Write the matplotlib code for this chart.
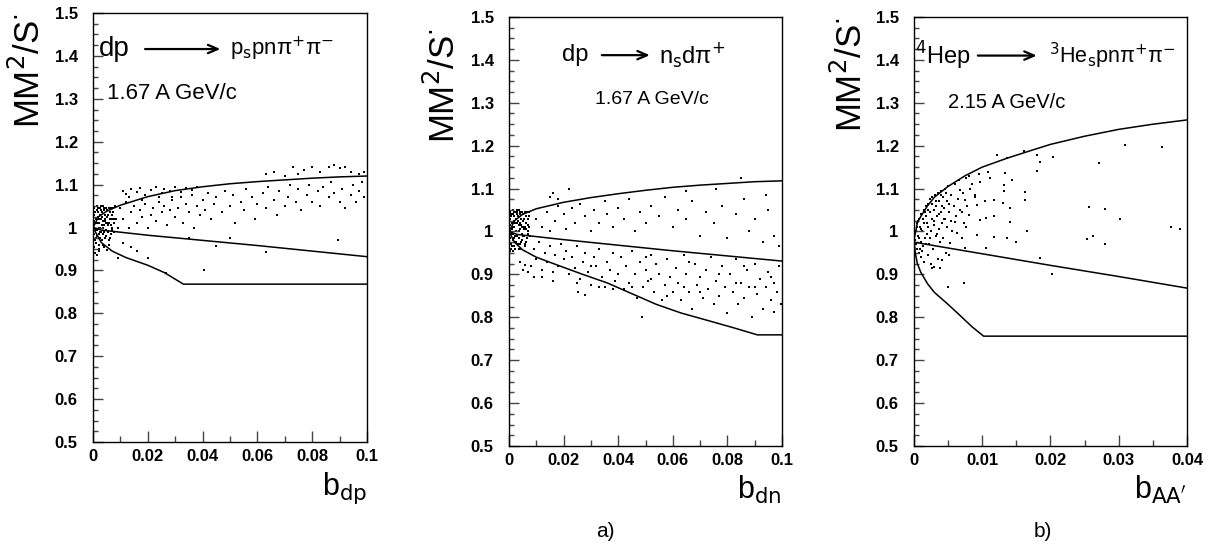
import numpy as np
import matplotlib
matplotlib.use("Agg")
import matplotlib.pyplot as plt
from matplotlib.ticker import MultipleLocator

plt.rcParams['font.family'] = ['Liberation Sans', 'DejaVu Sans']
plt.rcParams['mathtext.fontset'] = 'dejavusans'

# ---- panel 1 : dp -> p_s p n pi+ pi- ----
dpUpperX = [0, 0.002, 0.005, 0.01, 0.02, 0.03, 0.04, 0.05, 0.06, 0.07, 0.08, 0.09, 0.1]
dpUpperY = [1.0, 1.025, 1.038, 1.052, 1.072, 1.086, 1.095, 1.102, 1.107, 1.111, 1.115, 1.118, 1.12]
dpMiddleX = [0, 0.003, 0.02, 0.04, 0.06, 0.08, 0.1]
dpMiddleY = [1.0, 0.994, 0.982, 0.97, 0.958, 0.945, 0.932]
dpLowerX = [0, 0.003, 0.007, 0.012, 0.02, 0.026, 0.033, 0.1]
dpLowerY = [1.0, 0.965, 0.945, 0.93, 0.912, 0.895, 0.868, 0.868]

dpPoints = [
    (0.0005, 1.0), (0.001, 1.02), (0.0015, 0.98), (0.002, 1.01), (0.0008, 1.035), (0.0012, 0.965),
    (0.0025, 1.03), (0.003, 0.99), (0.0035, 1.015), (0.004, 1.04), (0.0045, 0.975), (0.005, 1.025),
    (0.0055, 1.005), (0.006, 1.045), (0.0065, 0.985), (0.007, 1.03), (0.0075, 1.01), (0.0002, 1.045),
    (0.0003, 0.955), (0.0018, 1.045), (0.0022, 0.96), (0.0028, 1.05), (0.0032, 0.97), (0.0038, 1.0),
    (0.0042, 1.02), (0.0048, 0.995), (0.0052, 1.04), (0.0058, 0.97), (0.0062, 1.02), (0.0068, 1.0),
    (0.0072, 1.045), (0.0078, 0.99), (0.001, 0.995), (0.0015, 1.01), (0.002, 0.985), (0.0025, 1.0),
    (0.003, 1.02), (0.0035, 0.985), (0.004, 1.005), (0.0045, 1.03), (0.0007, 0.94), (0.0013, 0.935),
    (0.002, 0.95), (0.004, 0.955), (0.006, 0.96), (0.008, 1.05), (0.0085, 1.02), (0.009, 1.0),
    (0.0005, 1.015), (0.0017, 1.025), (0.0033, 1.035), (0.0047, 1.01), (0.0063, 1.035), (0.0027, 0.975),
    (0.002, 0.945), (0.005, 0.948),
    (0.0004, 1.03), (0.0009, 1.01), (0.0011, 0.975), (0.0014, 1.04), (0.0016, 0.995), (0.0019, 1.035),
    (0.0021, 1.0), (0.0023, 1.02), (0.0026, 0.99), (0.0029, 1.04), (0.0031, 1.005), (0.0034, 1.025),
    (0.0036, 0.96), (0.0039, 1.045), (0.0041, 0.99), (0.0044, 1.015), (0.0046, 1.045), (0.0049, 0.98),
    (0.0051, 1.01), (0.0054, 1.03), (0.0056, 0.99), (0.0059, 1.01), (0.0061, 0.975), (0.0064, 1.005),
    (0.0066, 1.045), (0.0069, 1.02), (0.0071, 0.995), (0.0074, 1.035), (0.0077, 1.02), (0.0001, 1.005),
    (0.0002, 0.985), (0.0006, 0.97), (0.0013, 1.05), (0.0024, 1.045), (0.0037, 1.05),
    (0.011, 1.085), (0.012, 1.078), (0.014, 1.09), (0.016, 1.082), (0.017, 1.093), (0.019, 1.076),
    (0.021, 1.088), (0.023, 1.095), (0.025, 1.08), (0.026, 1.09), (0.028, 1.086), (0.03, 1.094),
    (0.032, 1.083), (0.034, 1.092), (0.036, 1.088), (0.013, 1.07), (0.018, 1.065), (0.024, 1.07),
    (0.029, 1.072), (0.038, 1.095),
    (0.01, 1.045), (0.011, 1.02), (0.012, 1.06), (0.013, 1.0), (0.014, 1.035), (0.015, 1.05),
    (0.016, 1.01), (0.017, 1.04), (0.018, 1.025), (0.019, 1.055), (0.02, 1.0), (0.021, 1.03),
    (0.022, 1.045), (0.023, 1.015), (0.024, 1.06), (0.025, 1.035), (0.026, 1.05), (0.027, 1.005),
    (0.028, 1.04), (0.029, 1.065), (0.03, 1.025), (0.031, 1.045), (0.032, 1.07), (0.033, 1.01),
    (0.034, 1.055), (0.035, 1.035), (0.036, 1.075), (0.037, 1.0), (0.038, 1.05), (0.039, 1.03),
    (0.04, 1.065), (0.041, 1.04), (0.042, 1.08), (0.043, 1.02), (0.044, 1.055), (0.045, 1.07),
    (0.047, 1.035), (0.048, 1.085), (0.05, 1.05), (0.051, 1.075), (0.052, 1.01), (0.054, 1.06),
    (0.055, 1.04), (0.056, 1.09), (0.058, 1.07), (0.059, 1.02), (0.06, 1.055), (0.062, 1.08),
    (0.063, 1.045), (0.064, 1.095), (0.066, 1.065), (0.067, 1.03), (0.068, 1.085), (0.07, 1.05),
    (0.071, 1.07), (0.072, 1.1), (0.074, 1.06), (0.075, 1.09), (0.076, 1.04), (0.078, 1.075),
    (0.079, 1.1), (0.08, 1.06), (0.082, 1.085), (0.083, 1.05), (0.084, 1.095), (0.086, 1.07),
    (0.087, 1.105), (0.088, 1.08), (0.09, 1.06), (0.091, 1.09), (0.092, 1.045), (0.094, 1.075),
    (0.095, 1.1), (0.096, 1.06), (0.097, 1.085), (0.098, 1.105), (0.099, 1.07),
    (0.066, 1.13), (0.07, 1.12), (0.073, 1.14), (0.077, 1.135), (0.08, 1.14), (0.083, 1.13),
    (0.086, 1.14), (0.088, 1.145), (0.09, 1.138), (0.092, 1.142), (0.094, 1.13), (0.097, 1.125),
    (0.099, 1.13), (0.075, 1.125), (0.063, 1.125),
    (0.02, 0.93), (0.0405, 0.902), (0.0266, 0.895), (0.063, 0.944), (0.0895, 0.971), (0.045, 0.957),
    (0.014, 0.955), (0.011, 0.965), (0.035, 0.975), (0.05, 0.975), (0.016, 0.945), (0.009, 0.93),
]

# ---- panel 2 : dp -> n_s d pi+ ----
dnUpperX = [0, 0.002, 0.005, 0.01, 0.02, 0.03, 0.04, 0.05, 0.06, 0.07, 0.08, 0.09, 0.1]
dnUpperY = [1.0, 1.025, 1.04, 1.053, 1.068, 1.079, 1.088, 1.096, 1.103, 1.108, 1.112, 1.116, 1.118]
dnMiddleX = [0, 0.003, 0.02, 0.04, 0.06, 0.08, 0.1]
dnMiddleY = [1.0, 0.993, 0.981, 0.968, 0.955, 0.943, 0.931]
dnLowerX = [0, 0.002, 0.005, 0.01, 0.018, 0.027, 0.036, 0.045, 0.054, 0.063, 0.072, 0.082, 0.091, 0.1]
dnLowerY = [1.0, 0.975, 0.957, 0.94, 0.921, 0.9, 0.88, 0.855, 0.83, 0.81, 0.794, 0.776, 0.759, 0.759]

dnPoints = [
    (0.0005, 1.0), (0.001, 1.02), (0.0015, 0.98), (0.002, 1.01), (0.0008, 1.035), (0.0012, 0.965),
    (0.0025, 1.03), (0.003, 0.99), (0.0035, 1.015), (0.004, 1.04), (0.0045, 0.975), (0.005, 1.025),
    (0.0055, 1.005), (0.006, 1.045), (0.0065, 0.985), (0.007, 1.03), (0.0075, 1.01), (0.0002, 1.045),
    (0.0003, 0.955), (0.0018, 1.045), (0.0022, 0.96), (0.0028, 1.05), (0.0032, 0.97), (0.0038, 1.0),
    (0.0042, 1.02), (0.0048, 0.995), (0.0052, 1.04), (0.0058, 0.97), (0.0062, 1.02), (0.0068, 1.0),
    (0.0072, 1.045), (0.0078, 0.99), (0.001, 0.995), (0.0015, 1.01), (0.002, 0.985), (0.0025, 1.0),
    (0.003, 1.02), (0.0035, 0.985), (0.004, 1.005), (0.0045, 1.03), (0.0007, 0.96), (0.0013, 0.955),
    (0.002, 0.965), (0.004, 0.96), (0.006, 0.965), (0.0005, 1.015), (0.0017, 1.025), (0.0033, 1.035),
    (0.0047, 1.01), (0.0063, 1.035), (0.0027, 0.975), (0.0009, 1.04), (0.0021, 0.99), (0.0041, 0.97),
    (0.0053, 0.99), (0.0069, 1.015), (0.0011, 1.005), (0.0031, 1.045),
    (0.0004, 1.03), (0.0014, 1.04), (0.0016, 0.995), (0.0019, 1.035), (0.0023, 1.02), (0.0026, 0.99),
    (0.0029, 1.04), (0.0034, 1.025), (0.0036, 0.96), (0.0039, 1.045), (0.0044, 1.015), (0.0046, 1.045),
    (0.0049, 0.98), (0.0051, 1.01), (0.0054, 1.03), (0.0056, 0.99), (0.0059, 1.01), (0.0061, 0.975),
    (0.0064, 1.005), (0.0066, 1.045), (0.0071, 0.995), (0.0074, 1.035), (0.0001, 1.005), (0.0002, 0.985),
    (0.0006, 0.97), (0.0013, 1.05), (0.0024, 1.045), (0.0037, 1.05),
    (0.01, 1.03), (0.012, 1.01), (0.014, 1.045), (0.015, 1.0), (0.017, 1.025), (0.018, 1.06),
    (0.02, 1.04), (0.021, 1.005), (0.023, 1.055), (0.024, 1.02), (0.026, 1.065), (0.028, 1.035),
    (0.03, 1.0), (0.031, 1.05), (0.033, 1.02), (0.035, 1.07), (0.036, 1.04), (0.038, 1.01),
    (0.04, 1.055), (0.042, 1.03), (0.044, 1.075), (0.046, 1.0), (0.048, 1.045), (0.05, 1.02),
    (0.052, 1.06), (0.055, 1.035), (0.057, 1.08), (0.06, 1.01), (0.062, 1.05), (0.065, 1.03),
    (0.067, 1.07), (0.07, 0.99), (0.072, 1.045), (0.075, 1.02), (0.078, 1.06), (0.08, 0.985),
    (0.083, 1.04), (0.086, 1.075), (0.088, 1.0), (0.09, 1.03), (0.093, 0.975), (0.095, 1.05),
    (0.097, 0.99), (0.099, 0.965),
    (0.016, 1.089), (0.015, 1.08), (0.018, 1.075), (0.022, 1.098), (0.085, 1.124), (0.065, 1.095),
    (0.076, 1.1), (0.094, 1.085),
    (0.008, 0.92), (0.009, 0.96), (0.01, 0.935), (0.011, 0.975), (0.012, 0.91), (0.013, 0.95),
    (0.014, 0.93), (0.015, 0.965), (0.016, 0.905), (0.017, 0.945), (0.018, 0.92), (0.019, 0.97),
    (0.02, 0.935), (0.021, 0.955), (0.022, 0.9), (0.023, 0.94), (0.024, 0.915), (0.025, 0.965),
    (0.026, 0.89), (0.027, 0.93), (0.028, 0.95), (0.029, 0.905), (0.03, 0.875), (0.031, 0.94),
    (0.032, 0.92), (0.033, 0.96), (0.034, 0.895), (0.035, 0.87), (0.036, 0.93), (0.037, 0.91),
    (0.038, 0.95), (0.039, 0.885), (0.04, 0.9), (0.041, 0.94), (0.042, 0.865), (0.043, 0.92),
    (0.044, 0.88), (0.045, 0.955), (0.046, 0.9), (0.047, 0.845), (0.048, 0.93), (0.049, 0.87),
    (0.05, 0.91), (0.051, 0.885), (0.052, 0.945), (0.053, 0.86), (0.054, 0.925), (0.055, 0.9),
    (0.056, 0.84), (0.057, 0.875), (0.058, 0.935), (0.059, 0.895), (0.06, 0.86), (0.061, 0.915),
    (0.062, 0.88), (0.063, 0.84), (0.064, 0.945), (0.065, 0.9), (0.066, 0.86), (0.067, 0.82),
    (0.068, 0.925), (0.069, 0.875), (0.07, 0.895), (0.071, 0.845), (0.072, 0.91), (0.073, 0.865),
    (0.074, 0.94), (0.075, 0.83), (0.076, 0.885), (0.077, 0.85), (0.078, 0.92), (0.079, 0.87),
    (0.08, 0.81), (0.081, 0.9), (0.082, 0.86), (0.083, 0.935), (0.084, 0.83), (0.085, 0.88),
    (0.086, 0.845), (0.087, 0.91), (0.088, 0.87), (0.089, 0.8), (0.09, 0.925), (0.091, 0.855),
    (0.092, 0.89), (0.093, 0.82), (0.094, 0.87), (0.095, 0.905), (0.096, 0.84), (0.097, 0.88),
    (0.098, 0.86), (0.099, 0.92), (0.0995, 0.83),
    (0.012, 0.895), (0.016, 0.885), (0.025, 0.88), (0.033, 0.87), (0.038, 0.865), (0.045, 0.87),
    (0.052, 0.89), (0.058, 0.85), (0.064, 0.87), (0.07, 0.86), (0.077, 0.9), (0.083, 0.88),
    (0.09, 0.87), (0.096, 0.895), (0.03, 0.92), (0.05, 0.94), (0.066, 0.93), (0.086, 0.92),
    (0.0254, 0.86), (0.028, 0.852), (0.0486, 0.801), (0.097, 0.813), (0.005, 0.91), (0.007, 0.905),
    (0.009, 0.895), (0.004, 0.93), (0.006, 0.922),
]

# ---- panel 3 : 4He p -> 3He_s p n pi+ pi- ----
heUpperX = [0, 0.0005, 0.001, 0.002, 0.003, 0.005, 0.0075, 0.01, 0.0135, 0.017, 0.02, 0.025, 0.03, 0.035, 0.04]
heUpperY = [0.98, 1.02, 1.035, 1.06, 1.08, 1.105, 1.13, 1.15, 1.17, 1.188, 1.203, 1.222, 1.238, 1.25, 1.26]
heMiddleX = [0, 0.01, 0.02, 0.03, 0.04]
heMiddleY = [0.975, 0.948, 0.921, 0.895, 0.868]
heLowerX = [0, 0.0002, 0.0005, 0.001, 0.002, 0.003, 0.005, 0.0065, 0.0085, 0.0102, 0.04]
heLowerY = [0.98, 0.95, 0.925, 0.905, 0.878, 0.858, 0.83, 0.808, 0.778, 0.756, 0.756]

hePoints = [
    (0.0002, 0.98), (0.0003, 1.0), (0.0004, 0.96), (0.0005, 1.02), (0.0006, 0.99), (0.0007, 1.03),
    (0.0008, 0.95), (0.0009, 1.01), (0.001, 0.975), (0.0011, 1.04), (0.0012, 1.0), (0.0013, 0.965),
    (0.0014, 1.05), (0.0015, 1.02), (0.0016, 0.985), (0.0017, 1.06), (0.0018, 1.035), (0.0019, 0.995),
    (0.002, 1.065), (0.0021, 1.01), (0.0022, 0.97), (0.0023, 1.045), (0.0024, 1.075), (0.0025, 1.0),
    (0.0026, 1.03), (0.0027, 1.08), (0.0028, 0.96), (0.0029, 1.05), (0.003, 1.015), (0.0031, 1.085),
    (0.0032, 0.99), (0.0033, 1.06), (0.0034, 1.035), (0.0035, 1.09), (0.0036, 1.005), (0.0037, 1.07),
    (0.0038, 0.975), (0.0039, 1.045), (0.004, 1.095), (0.0041, 1.02), (0.0042, 1.08), (0.0043, 0.985),
    (0.0044, 1.055), (0.0045, 1.1), (0.0046, 1.03), (0.0047, 0.95), (0.0048, 1.07), (0.0049, 1.01),
    (0.005, 1.105), (0.0052, 1.045), (0.0054, 1.085), (0.0056, 1.0), (0.0058, 1.06), (0.006, 1.11),
    (0.0062, 1.035), (0.0064, 1.075), (0.0066, 1.12), (0.0068, 1.05), (0.007, 0.985), (0.0072, 1.09),
    (0.0074, 1.02), (0.0076, 1.125), (0.0078, 1.06), (0.008, 1.13), (0.0085, 1.11), (0.009, 1.08),
    (0.0095, 1.135), (0.0015, 0.93), (0.001, 0.94), (0.0025, 0.925), (0.0035, 0.935), (0.002, 0.945),
    (0.0004, 1.01), (0.0006, 1.025), (0.0009, 0.96), (0.0011, 1.005), (0.0013, 1.03), (0.0016, 1.045),
    (0.0019, 1.02), (0.0021, 1.05), (0.0023, 0.985), (0.0026, 1.065), (0.0029, 1.025), (0.0032, 1.07),
    (0.0034, 0.995), (0.0036, 1.04), (0.0039, 1.085), (0.0041, 1.06), (0.0044, 1.03), (0.0047, 1.09),
    (0.0051, 1.065), (0.0055, 1.025), (0.0003, 0.97), (0.0007, 0.985), (0.0012, 0.955), (0.0018, 0.97),
    (0.0133, 1.136), (0.0143, 1.12), (0.0132, 1.108), (0.0132, 1.095), (0.0118, 1.073), (0.0131, 1.066),
    (0.0141, 1.054), (0.0118, 1.035), (0.0106, 1.031), (0.0141, 1.023), (0.0136, 0.984), (0.0118, 0.986),
    (0.0106, 0.961), (0.015, 0.976), (0.0111, 1.124), (0.0109, 1.139), (0.0097, 1.116), (0.0104, 1.07),
    (0.0092, 1.062), (0.0097, 1.027), (0.0092, 0.992), (0.0077, 1.011), (0.008, 1.038), (0.0075, 1.073),
    (0.0082, 1.1), (0.0068, 1.097), (0.0089, 1.085), (0.007, 1.046), (0.006, 1.023), (0.0063, 0.996),
    (0.0053, 0.972), (0.0075, 0.961), (0.0052, 0.945), (0.0041, 0.934), (0.0029, 0.918),
    (0.0309, 1.2016), (0.0364, 1.196), (0.0271, 1.16), (0.0257, 1.056), (0.028, 1.052), (0.0302, 1.03),
    (0.0262, 0.99), (0.0254, 0.983), (0.028, 0.971), (0.0377, 1.011), (0.039, 1.005), (0.0203, 0.901),
    (0.0185, 0.939), (0.0165, 1.001), (0.0162, 1.073), (0.0162, 1.093), (0.018, 1.141), (0.0185, 1.161),
    (0.0181, 1.178), (0.0204, 1.174), (0.0161, 1.188), (0.0121, 1.178), (0.0137, 1.172), (0.005, 0.871),
    (0.0074, 0.881), (0.0026, 0.914), (0.0038, 0.914),
]


def drawTitle(ax, left, right, yPos, leftX, arrowX, rightX, size, rightSize):
    # reaction: left side, long arrow, right side
    ax.text(leftX, yPos, left, ha='left', va='center', fontsize=size, transform=ax.transAxes)
    ax.annotate('', xy=(arrowX[1], yPos), xytext=(arrowX[0], yPos),
                xycoords='axes fraction', textcoords='axes fraction',
                arrowprops=dict(arrowstyle='->,head_length=0.7,head_width=0.3', lw=1.6,
                                color='black', shrinkA=0, shrinkB=0))
    ax.text(rightX, yPos, right, ha='left', va='center', fontsize=rightSize, transform=ax.transAxes)


def drawPanel(ax, points, curves, xmax, xmajor, xminor, xlabel,
              energy, energyPos, energySize, ylabelX, ylabelY):
    px, py = zip(*points)
    ax.scatter(px, py, s=2.5, marker='s', color='black', linewidths=0)
    for cx, cy in curves:
        ax.plot(cx, cy, color='black', lw=1.1)

    ax.set_xlim(0, xmax)
    ax.set_ylim(0.5, 1.5)
    ax.xaxis.set_major_locator(MultipleLocator(xmajor))
    ax.xaxis.set_minor_locator(MultipleLocator(xminor))
    ax.yaxis.set_major_locator(MultipleLocator(0.1))
    ax.yaxis.set_minor_locator(MultipleLocator(0.025))
    ax.xaxis.set_major_formatter(plt.FuncFormatter(lambda v, p: f"{v:g}"))
    ax.yaxis.set_major_formatter(plt.FuncFormatter(lambda v, p: f"{v:g}"))
    ax.tick_params(which='both', direction='in', top=False, right=False, color='#444444')
    ax.tick_params(axis='x', which='major', length=8, width=1, pad=5, labelsize=12)
    ax.tick_params(axis='x', which='minor', length=4, width=1)
    ax.tick_params(axis='y', which='major', length=7, width=1, pad=11, labelsize=12)
    ax.tick_params(axis='y', which='minor', length=3.5, width=1)
    for lab in ax.get_xticklabels() + ax.get_yticklabels():
        lab.set_fontweight('bold')
    for sp in ax.spines.values():
        sp.set_linewidth(1.0)

    ax.text(ylabelX, ylabelY, r"MM$^2$/S$^{\cdot}$", rotation=90, ha='center', va='top',
            fontsize=25, transform=ax.transAxes)
    ax.text(1.0, -0.066, xlabel, ha='right', va='top', fontsize=22, transform=ax.transAxes)
    ax.text(energyPos[0], energyPos[1], energy, ha='left', va='center', fontsize=energySize,
            transform=ax.transAxes)


def main():
    fig = plt.figure(figsize=(12.16, 5.51), dpi=100)

    ax1 = fig.add_axes([0.0765, 0.1978, 0.2253, 0.7786])
    ax2 = fig.add_axes([0.4186, 0.1906, 0.2245, 0.7786])
    ax3 = fig.add_axes([0.7516, 0.1906, 0.2245, 0.7786])

    drawPanel(ax1, dpPoints,
              [(dpUpperX, dpUpperY), (dpMiddleX, dpMiddleY), (dpLowerX, dpLowerY)],
              0.1, 0.02, 0.01, r"b$_{\mathrm{dp}}$",
              "1.67 A GeV/c", (0.05, 0.813), 16, -0.234, 1.0)
    drawTitle(ax1, "dp", r"p$_{\mathrm{s}}$pnπ$^{+}$π$^{-}$", 0.916,
              0.02, (0.19, 0.465), 0.5, 20, 16)

    drawPanel(ax2, dnPoints,
              [(dnUpperX, dnUpperY), (dnMiddleX, dnMiddleY), (dnLowerX, dnLowerY)],
              0.1, 0.02, 0.01, r"b$_{\mathrm{dn}}$",
              "1.67 A GeV/c", (0.315, 0.807), 14, -0.238, 0.975)
    drawTitle(ax2, "dp", r"n$_{\mathrm{s}}$dπ$^{+}$", 0.911,
              0.194, (0.34, 0.516), 0.55, 17, 17)

    drawPanel(ax3, hePoints,
              [(heUpperX, heUpperY), (heMiddleX, heMiddleY), (heLowerX, heLowerY)],
              0.04, 0.01, 0.005, r"b$_{\mathrm{AA'}}$",
              "2.15 A GeV/c", (0.125, 0.80), 14.5, -0.23, 1.0)
    drawTitle(ax3, r"$^{4}$Hep", r"$^{3}$He$_{\mathrm{s}}$pnπ$^{+}$π$^{-}$", 0.91,
              0.005, (0.234, 0.45), 0.495, 17, 15.5)

    fig.text(0.4975, 0.035, "a)", ha='center', va='center', fontsize=15)
    fig.text(0.858, 0.035, "b)", ha='center', va='center', fontsize=15)

    fig.savefig("out.png", dpi=100)
    plt.close(fig)


if __name__ == "__main__":
    main()
